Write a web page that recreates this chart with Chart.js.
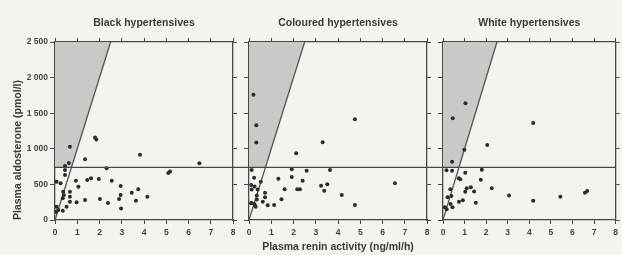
<!DOCTYPE html>
<html><head><meta charset="utf-8">
<script src="https://cdn.jsdelivr.net/npm/chart.js@4/dist/chart.umd.min.js"></script>
<style>
html,body{margin:0;padding:0;background:#f4f4ef;}
#wrap{position:relative;width:622px;height:255px;overflow:hidden;background:#f4f4ef;}
canvas{position:absolute;top:0;}
</style></head><body>
<div id="wrap">
<canvas id="p1" width="241" height="255" style="left:0px"></canvas>
<canvas id="p2" width="194" height="255" style="left:241px"></canvas>
<canvas id="p3" width="187" height="255" style="left:435px"></canvas>
</div>
<script>
// ---- data ----
const panelTitles = ['Black hypertensives', 'Coloured hypertensives', 'White hypertensives'];
const xAxisTitle = 'Plasma renin activity (ng/ml/h)';
const yAxisTitle = 'Plasma aldosterone (pmol/l)';
const xTickValues = [0, 1, 2, 3, 4, 5, 6, 7, 8];
const yTickLabels = ['0', '500', '1 000', '1 500', '2 000', '2 500'];

const blackRenin = [0.05,0.07,0.15,0.35,0.52,0.35,0.40,0.37,0.67,0.67,0.67,0.07,0.25,0.45,0.45,0.45,0.62,0.67,0.94,1.05,0.97,1.35,1.45,1.62,1.97,2.02,2.38,2.55,2.32,2.95,2.95,2.88,2.97,3.45,3.74,3.64,4.15,1.35,1.80,1.86,3.82,6.49,5.09,5.17];
const blackAldo  = [117,187,140,130,187,305,351,398,257,327,398,538,515,632,702,760,800,1030,552,468,250,281,562,585,576,295,238,552,726,477,351,295,160,384,431,269,328,852,1160,1130,915,796,660,680];

const colouredRenin = [0.20,0.33,0.33,4.76,3.31,2.12,1.92,2.59,3.64,1.32,1.92,2.41,1.60,2.17,2.29,3.24,3.52,3.38,4.17,4.76,6.56,1.46,1.13,0.84,0.62,0.72,0.72,0.12,0.23,0.53,0.10,0.25,0.12,0.39,0.35,0.35,0.12,0.25,0.30,0.09];
const colouredAldo  = [1760,1330,1090,1414,1091,937,712,693,702,580,605,550,431,431,431,480,501,412,351,211,515,290,211,206,257,320,384,702,595,538,492,470,430,430,345,288,240,220,185,234];

const whiteRenin = [1.04,0.45,4.18,2.05,0.99,0.42,0.16,0.42,1.03,1.80,0.73,0.80,1.75,2.26,1.10,1.29,1.44,1.03,0.34,0.39,0.21,0.74,0.92,1.52,0.35,0.44,0.09,0.17,3.06,4.18,5.44,6.58,6.68];
const whiteAldo  = [1639,1428,1362,1053,988,819,698,693,665,707,585,571,566,445,445,459,400,398,431,337,318,257,276,243,225,178,178,150,344,271,328,384,407];

const aldoThreshold = 740;          // horizontal cut-off line
const ratioLineRenin = [0, 2.5];    // diagonal aldosterone/renin ratio line
const ratioLineAldo  = [0, 2500];
const shadeRenin = [0, 0.74, 2.5];  // lower edge of shaded zone (filled up to the top)
const shadeAldo  = [740, 740, 2500];

// ---- styling ----
const FONT = "'Liberation Sans', Arial, sans-serif";
const AXIS = '#474747';
const TEXT = '#3a3a3a';

const pts = (xs, ys) => xs.map((x, i) => ({x, y: ys[i]}));

const thresholdPlugin = {
  id: 'threshold',
  afterDatasetsDraw(chart, args, o) {
    const {ctx, chartArea, scales} = chart;
    const y = scales.y.getPixelForValue(aldoThreshold);
    const x0 = o.first ? chartArea.left : 0;
    const x1 = o.last ? chartArea.right : chart.width;
    ctx.save();
    ctx.strokeStyle = AXIS;
    ctx.lineWidth = 1.2;
    ctx.beginPath();
    ctx.moveTo(x0, y);
    ctx.lineTo(x1, y);
    ctx.stroke();
    ctx.restore();
  }
};

function makePanel(id, idx, renin, aldo) {
  const first = idx === 0, last = idx === 2;
  const tickFont = {family: FONT, size: 8.5, weight: 'bold'};
  const gridCommon = {drawOnChartArea: false, drawTicks: true, color: AXIS, lineWidth: 1};
  const borderCommon = {display: true, color: AXIS, width: 1.3};
  new Chart(document.getElementById(id), {
    type: 'scatter',
    data: {
      datasets: [
        {
          data: pts(renin, aldo),
          backgroundColor: '#2c2c2c', borderColor: '#2c2c2c', borderWidth: 0,
          pointRadius: 2, pointStyle: 'circle', order: 0
        },
        {
          type: 'line', data: pts(ratioLineRenin, ratioLineAldo), showLine: true,
          borderColor: '#555', borderWidth: 1.3, pointRadius: 0, fill: false, order: 1
        },
        {
          type: 'line', data: pts(shadeRenin, shadeAldo), showLine: false,
          borderWidth: 0, pointRadius: 0,
          backgroundColor: '#c9cac6', fill: 'end', order: 2
        }
      ]
    },
    options: {
      responsive: false, animation: false, devicePixelRatio: 1,
      layout: {padding: 0},
      plugins: {
        legend: {display: false}, tooltip: {enabled: false},
        title: {
          display: true, text: panelTitles[idx], fullSize: false,
          color: TEXT, font: {family: FONT, size: 10.5, weight: 'bold'},
          padding: {top: 16.7, bottom: 6.7}
        },
        threshold: {first, last}
      },
      scales: {
        x: {
          type: 'linear', position: 'bottom', min: 0, max: 8,
          afterBuildTicks: s => { s.ticks = xTickValues.map(v => ({value: v})); },
          ticks: {font: tickFont, color: '#444', padding: 4, maxRotation: 0, autoSkip: false},
          grid: Object.assign({tickLength: 4}, gridCommon),
          border: borderCommon,
          title: {
            display: idx === 1, text: xAxisTitle, color: TEXT,
            font: {family: FONT, size: 10.5, weight: 'bold'}, padding: {top: 0, bottom: 1.2}
          },
          afterFit: s => { s.height = 35; }
        },
        xTop: {
          type: 'linear', position: 'top', min: 0, max: 8,
          afterBuildTicks: s => { s.ticks = xTickValues.map(v => ({value: v})); },
          ticks: {display: false},
          grid: Object.assign({tickLength: 4}, gridCommon),
          border: borderCommon,
          afterFit: s => { s.height = 6; }
        },
        y: {
          type: 'linear', position: 'left', min: 0, max: 2500,
          ticks: {
            display: first, stepSize: 500, font: tickFont, color: '#444', padding: 2,
            callback: (v, i) => yTickLabels[i]
          },
          grid: Object.assign({tickLength: 5}, gridCommon),
          border: borderCommon,
          title: {
            display: first, text: yAxisTitle, align: 'start', color: TEXT,
            font: {family: FONT, size: 10.5, weight: 'bold'}, padding: {top: 12, bottom: 0}
          },
          afterFit: s => { s.width = first ? 55 : 8; }
        },
        yRight: {
          type: 'linear', position: 'right', min: 0, max: 2500,
          ticks: {display: false, stepSize: 500},
          grid: Object.assign({tickLength: 4}, gridCommon),
          border: borderCommon,
          afterFit: s => { s.width = last ? 1 : 8; }
        }
      }
    },
    plugins: [thresholdPlugin]
  });
}

makePanel('p1', 0, blackRenin, blackAldo);
makePanel('p2', 1, colouredRenin, colouredAldo);
makePanel('p3', 2, whiteRenin, whiteAldo);
</script>
</body></html>
